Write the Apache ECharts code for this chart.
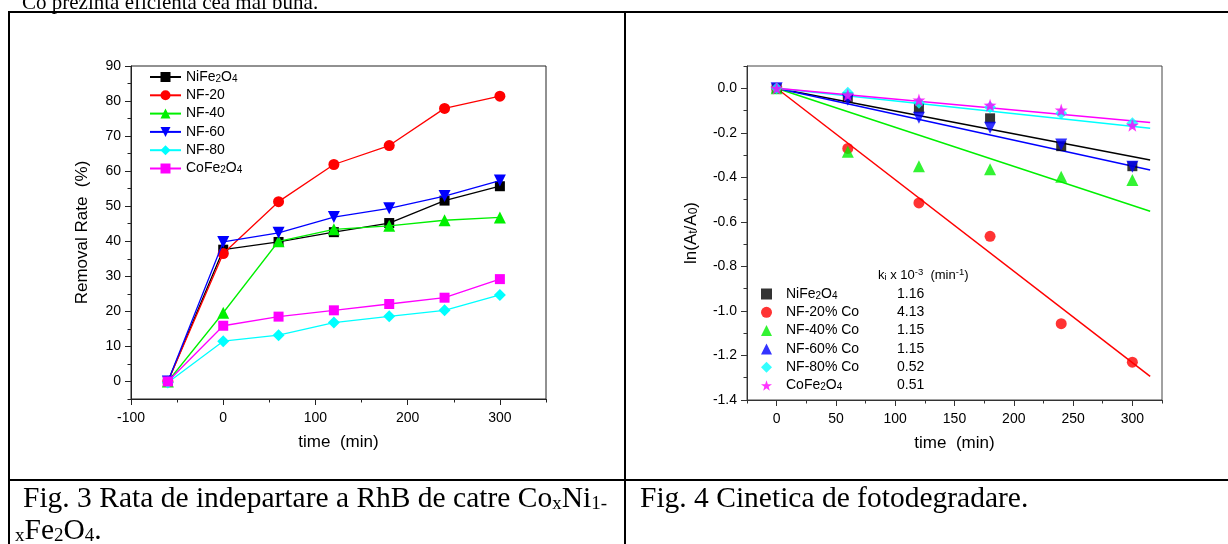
<!DOCTYPE html>
<html>
<head>
<meta charset="utf-8">
<title>Fotodegradare RhB</title>
<script src="https://cdn.jsdelivr.net/npm/echarts@6/dist/echarts.min.js"></script>
<style>
  html, body { margin: 0; padding: 0; background: #fff; }
  #chart { width: 1228px; height: 544px; }
</style>
</head>
<body>
<div id="chart"></div>
<script>
// ---- Fig. 3: removal rate (%) vs time (min) ----
const removalTime = [-60, 0, 60, 120, 180, 240, 300];
const removalNiFe2O4 = [0, 37.6, 39.8, 42.6, 45.2, 51.6, 55.7];
const removalNF20 = [0, 36.5, 51.3, 61.9, 67.3, 77.9, 81.4];
const removalNF40 = [0, 19.6, 40.0, 43.4, 44.4, 46.0, 46.8];
const removalNF60 = [0, 39.8, 42.4, 46.9, 49.4, 52.9, 57.3];
const removalNF80 = [-0.3, 11.5, 13.2, 16.8, 18.6, 20.3, 24.7];
const removalCoFe2O4 = [0, 15.9, 18.5, 20.3, 22.1, 23.9, 29.2];
const removalNames = ['NiFe2O4', 'NF-20', 'NF-40', 'NF-60', 'NF-80', 'CoFe2O4'];
const removalXTicks = [-100, 0, 100, 200, 300];
const removalXMinor = [-50, 50, 150, 250, 350];
const removalYTicks = [0, 10, 20, 30, 40, 50, 60, 70, 80, 90];
const removalYMinor = [-5, 5, 15, 25, 35, 45, 55, 65, 75, 85];

// ---- Fig. 4: ln(At/A0) vs time (min) ----
const kineticTime = [0, 60, 120, 180, 240, 300];
const lnNiFe2O4 = [0, -0.04, -0.09, -0.135, -0.26, -0.35];
const lnNF20 = [0, -0.27, -0.515, -0.665, -1.057, -1.23];
const lnNF40 = [0, -0.285, -0.35, -0.364, -0.397, -0.412];
const lnNF60 = [0, -0.052, -0.132, -0.177, -0.252, -0.352];
const lnNF80 = [0, -0.02, -0.065, -0.085, -0.112, -0.157];
const lnCoFe2O4 = [0, -0.03, -0.053, -0.076, -0.098, -0.166];
// linear fits, from t = 0 to t = 315 min
const fitTime = [0, 315];
const fitNiFe2O4 = [0, -0.322];
const fitNF20 = [0, -1.294];
const fitNF40 = [0, -0.552];
const fitNF60 = [0, -0.367];
const fitNF80 = [0, -0.18];
const fitCoFe2O4 = [0, -0.154];
const kineticNames = ['NiFe2O4', 'NF-20% Co', 'NF-40% Co', 'NF-60% Co', 'NF-80% Co', 'CoFe2O4'];
const rateConstants = ['1.16', '4.13', '1.15', '1.15', '0.52', '0.51'];
const kineticXTicks = [0, 50, 100, 150, 200, 250, 300];
const kineticXMinor = [-25, 25, 75, 125, 175, 225, 275, 325];
const kineticYTicks = [-1.4, -1.2, -1.0, -0.8, -0.6, -0.4, -0.2, 0.0];
const kineticYMinor = [-1.3, -1.1, -0.9, -0.7, -0.5, -0.3, -0.1, 0.1];

// ---- document text ----
const headText = 'Co prezinta eficienta cea mai buna.';
const caption3Line1 = 'Fig. 3 Rata de indepartare a RhB de catre Co{s|x}Ni{s|1-}';
const caption3Line2 = '{s|x}Fe{s|2}O{s|4}.';
const caption4 = 'Fig. 4 Cinetica de fotodegradare.';
const rateTitle = 'k{s|i} x 10{p|-3}  (min{p|-1})';

const SANS = '"Liberation Sans", Arial, sans-serif';
const SERIF = '"Liberation Serif", "Times New Roman", serif';
const colors = ['#000000', '#ff0000', '#00f000', '#0000ff', '#00ffff', '#ff00ff'];
const STAR = 'path://M50,0 L61.8,35.1 L98.5,35.3 L69.1,57.3 L79.4,92.7 L50,71.6 L20.6,92.7 L30.9,57.3 L1.5,35.3 L38.2,35.1 Z';
const markers = [
  { symbol: 'rect', size: 10, rotate: 0 },
  { symbol: 'circle', size: 11, rotate: 0 },
  { symbol: 'triangle', size: 12, rotate: 0 },
  { symbol: 'triangle', size: 12, rotate: 180 },
  { symbol: 'diamond', size: 12, rotate: 0 },
  { symbol: 'rect', size: 10, rotate: 0 }
];

// chemical formulae: a digit right after a letter is a subscript
const formula = s => s.replace(/([A-Za-z])(\d+)/g, '$1{s|$2}');

const removalSeriesValues = [removalNiFe2O4, removalNF20, removalNF40, removalNF60, removalNF80, removalCoFe2O4];
const kineticSeriesValues = [lnNiFe2O4, lnNF20, lnNF40, lnNF60, lnNF80, lnCoFe2O4];
const fitSeriesValues = [fitNiFe2O4, fitNF20, fitNF40, fitNF60, fitNF80, fitCoFe2O4];
const kineticIds = kineticNames.map(n => 'ln ' + n);

function valueAxis(o) {
  const major = {
    type: 'value', gridIndex: o.grid, min: o.min, max: o.max, position: o.pos,
    axisLine: { show: true, onZero: false, lineStyle: { color: o.lineColor, width: 1 } },
    axisTick: { show: true, inside: false, length: 6, customValues: o.ticks, lineStyle: { color: o.lineColor, width: 1 } },
    axisLabel: {
      show: true, customValues: o.ticks, margin: o.labelMargin, color: '#000',
      fontFamily: SANS, fontSize: 14, formatter: o.fmt
    },
    splitLine: { show: false },
    name: o.name, nameLocation: 'middle', nameGap: o.nameGap,
    nameTextStyle: {
      fontFamily: SANS, fontSize: 17, color: '#000', lineHeight: 17,
      rich: { s: { fontFamily: SANS, fontSize: 12, lineHeight: 5, verticalAlign: 'bottom', color: '#000' } }
    }
  };
  const minor = {
    type: 'value', gridIndex: o.grid, min: o.min, max: o.max, position: o.pos,
    axisLine: { show: false, onZero: false },
    axisTick: { show: true, inside: false, length: 3.5, customValues: o.minor, lineStyle: { color: o.lineColor, width: 1 } },
    axisLabel: { show: false },
    splitLine: { show: false }
  };
  return [major, minor];
}

const xAxes = [].concat(
  valueAxis({ grid: 0, min: -100, max: 350, pos: 'bottom', ticks: removalXTicks, minor: removalXMinor, labelMargin: 12,
              lineColor: '#222', name: 'time  (min)', nameGap: 35, fmt: v => String(v) }),
  valueAxis({ grid: 1, min: -25, max: 325, pos: 'bottom', ticks: kineticXTicks, minor: kineticXMinor, labelMargin: 12,
              lineColor: '#333', name: 'time  (min)', nameGap: 35, fmt: v => String(v) })
);
const yAxes = [].concat(
  valueAxis({ grid: 0, min: -5, max: 90, pos: 'left', ticks: removalYTicks, minor: removalYMinor, labelMargin: 10,
              lineColor: '#222', name: 'Removal Rate  (%)', nameGap: 40, fmt: v => String(v) }),
  valueAxis({ grid: 1, min: -1.4, max: 0.1, pos: 'left', ticks: kineticYTicks, minor: kineticYMinor, labelMargin: 10,
              lineColor: '#333', name: 'ln(A{s|t}/A{s|0})', nameGap: 47, fmt: v => v.toFixed(1) })
);

const series = [];
removalNames.forEach((name, i) => {
  series.push({
    name: name, type: 'line', xAxisIndex: 0, yAxisIndex: 0,
    data: removalTime.map((t, j) => [t, removalSeriesValues[i][j]]),
    symbol: markers[i].symbol, symbolSize: markers[i].size, symbolRotate: markers[i].rotate,
    showSymbol: true, showAllSymbol: true,
    lineStyle: { color: colors[i], width: 1.3 },
    itemStyle: { color: colors[i] },
    emphasis: { disabled: true }, animation: false, z: 2 + i
  });
});
kineticNames.forEach((name, i) => {
  series.push({
    name: 'fit ' + name, type: 'line', xAxisIndex: 2, yAxisIndex: 2,
    data: fitTime.map((t, j) => [t, fitSeriesValues[i][j]]),
    symbol: 'none', lineStyle: { color: colors[i], width: 1.5 },
    emphasis: { disabled: true }, silent: true, animation: false, z: 2
  });
});
kineticNames.forEach((name, i) => {
  const m = i === 5 ? { symbol: STAR, size: 13, rotate: 0 } : markers[i];
  series.push({
    name: kineticIds[i], type: 'scatter', xAxisIndex: 2, yAxisIndex: 2,
    data: kineticTime.map((t, j) => [t, kineticSeriesValues[i][j]]),
    symbol: m.symbol, symbolSize: m.size, symbolRotate: m.rotate,
    itemStyle: { color: colors[i] },
    emphasis: { disabled: true }, animation: false, z: 4 + i
  });
});

const legendRich = {
  s: { fontFamily: SANS, fontSize: 10, lineHeight: 3, verticalAlign: 'bottom', color: '#000' }
};

// k values column and its heading, aligned with the legend rows
const kLegendTop = 287;
const kRowStep = 18.3;
const graphics = [
  // table frame
  { type: 'line', shape: { x1: 8, y1: 12, x2: 1228, y2: 12 }, style: { stroke: '#000', lineWidth: 2 } },
  { type: 'line', shape: { x1: 9, y1: 11, x2: 9, y2: 544 }, style: { stroke: '#000', lineWidth: 2 } },
  { type: 'line', shape: { x1: 625, y1: 11, x2: 625, y2: 544 }, style: { stroke: '#000', lineWidth: 2 } },
  { type: 'line', shape: { x1: 8, y1: 480, x2: 1228, y2: 480 }, style: { stroke: '#000', lineWidth: 2 } },
  // running text (cut by the top edge) and captions
  { type: 'text', x: 22, y: 3, style: { text: headText, fill: '#000', fontFamily: SERIF, fontSize: 21, align: 'left', verticalAlign: 'middle' } },
  { type: 'text', x: 23, y: 499, style: {
      text: caption3Line1, fill: '#000', fontFamily: SERIF, fontSize: 29.5, lineHeight: 29, align: 'left', verticalAlign: 'middle',
      rich: { s: { fontFamily: SERIF, fontSize: 19, lineHeight: 10, verticalAlign: 'bottom', fill: '#000' } } } },
  { type: 'text', x: 15, y: 531, style: {
      text: caption3Line2, fill: '#000', fontFamily: SERIF, fontSize: 29.5, lineHeight: 29, align: 'left', verticalAlign: 'middle',
      rich: { s: { fontFamily: SERIF, fontSize: 19, lineHeight: 10, verticalAlign: 'bottom', fill: '#000' } } } },
  { type: 'text', x: 640, y: 499, style: { text: caption4, fill: '#000', fontFamily: SERIF, fontSize: 29.5, align: 'left', verticalAlign: 'middle' } },
  { type: 'text', x: 878, y: 275, style: {
      text: rateTitle, fill: '#000', fontFamily: SANS, fontSize: 13, lineHeight: 15, align: 'left', verticalAlign: 'middle',
      rich: {
        s: { fontFamily: SANS, fontSize: 9.5, lineHeight: 4, verticalAlign: 'bottom', fill: '#000' },
        p: { fontFamily: SANS, fontSize: 9.5, lineHeight: 5, verticalAlign: 'top', fill: '#000' }
      } } }
];
rateConstants.forEach((k, i) => {
  graphics.push({ type: 'text', x: 897, y: kLegendTop + 7 + i * kRowStep,
    style: { text: k, fill: '#000', fontFamily: SANS, fontSize: 14, align: 'left', verticalAlign: 'middle' } });
});

const option = {
  backgroundColor: '#fff',
  animation: false,
  textStyle: { fontFamily: SANS },
  grid: [
    { left: 131, top: 66, width: 415, height: 333, show: true, borderColor: '#222', borderWidth: 1,
      backgroundColor: 'transparent', containLabel: false, outerBoundsMode: 'none' },
    { left: 747, top: 66, width: 415, height: 334, show: true, borderColor: '#444', borderWidth: 1,
      backgroundColor: 'transparent', containLabel: false, outerBoundsMode: 'none' }
  ],
  xAxis: xAxes,
  yAxis: yAxes,
  legend: [
    {
      data: removalNames, orient: 'vertical', left: 149, top: 70, padding: 0,
      itemWidth: 31, itemHeight: 12.5, itemGap: 4.3, selectedMode: false,
      textStyle: { fontFamily: SANS, fontSize: 14, lineHeight: 14, color: '#000', rich: legendRich },
      formatter: name => formula(name)
    },
    {
      data: kineticIds, orient: 'vertical', left: 761, top: kLegendTop, padding: 0,
      itemWidth: 11, itemHeight: 11, itemGap: kRowStep - 14, selectedMode: false,
      textStyle: { fontFamily: SANS, fontSize: 14, lineHeight: 14, color: '#000', padding: [0, 0, 0, 9], rich: legendRich },
      formatter: id => formula(kineticNames[kineticIds.indexOf(id)])
    }
  ],
  series: series,
  graphic: graphics
};

const chart = echarts.init(document.getElementById('chart'), null, { renderer: 'canvas', width: 1228, height: 544 });
chart.setOption(option);
</script>
</body>
</html>
